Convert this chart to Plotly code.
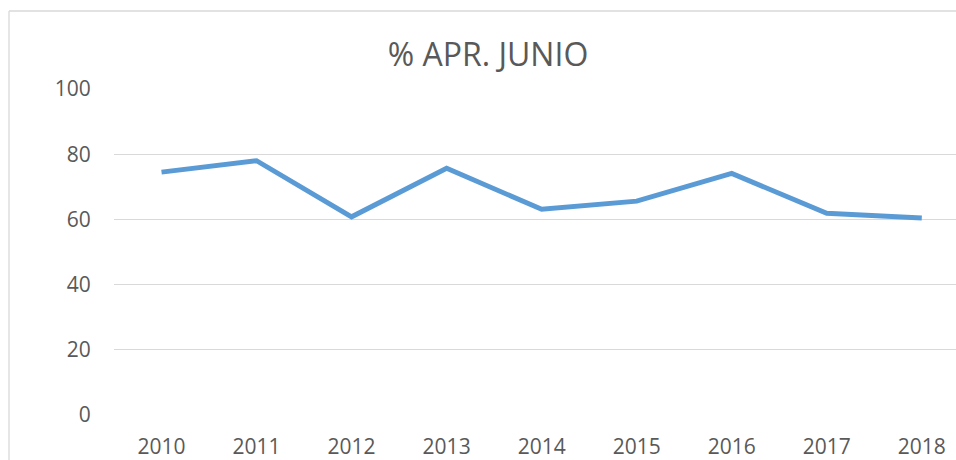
import plotly.graph_objects as go

years = ["2010", "2011", "2012", "2013", "2014", "2015", "2016", "2017", "2018"]
values = [74.5, 78.0, 60.8, 75.7, 63.1, 65.6, 74.1, 61.9, 60.4]
title_text = "% APR. JUNIO"
y_ticks = [0, 20, 40, 60, 80, 100]

W, H = 956, 460
L, T, B = 114, 89, 45
PW, PH = W - L, H - T - B

fig = go.Figure()
fig.add_trace(go.Scatter(
    x=years, y=values, mode="lines",
    line=dict(color="#5B9BD5", width=5),
    hoverinfo="x+y",
))

border_x = (9 - L) / PW
border_y = (H - B - 11) / PH

fig.update_layout(
    width=W, height=H,
    margin=dict(l=L, r=0, t=T, b=B),
    paper_bgcolor="white", plot_bgcolor="white",
    showlegend=False,
    font=dict(family="Open Sans, Noto Sans, sans-serif", color="#595959"),
    title=dict(text=title_text, x=488 / W, xanchor="center",
               y=1 - 55 / H, yanchor="middle",
               font=dict(size=32, color="#595959")),
    xaxis=dict(
        type="category", range=[-0.5, 8.36],
        showgrid=False, zeroline=False, showline=False,
        ticks="outside", ticklen=13, tickcolor="rgba(0,0,0,0)",
        tickfont=dict(size=21, color="#595959"),
    ),
    yaxis=dict(
        range=[0, 100], tickvals=y_ticks,
        showgrid=True, gridcolor="#D9D9D9", gridwidth=1.3,
        zeroline=False, showline=False,
        ticks="outside", ticklen=18, tickcolor="rgba(0,0,0,0)",
        tickfont=dict(size=21, color="#595959"),
    ),
    shapes=[
        dict(type="line", xref="paper", yref="paper",
             x0=border_x, x1=border_x, y0=border_y, y1=-0.5,
             line=dict(color="#D9D9D9", width=1.3)),
        dict(type="line", xref="paper", yref="paper",
             x0=border_x, x1=1.2, y0=border_y, y1=border_y,
             line=dict(color="#D9D9D9", width=1.3)),
    ],
)

fig.write_html(
    "out.html",
    config={"displayModeBar": False},
    post_script=(
        "document.body.style.margin='0';"
        "document.body.style.overflow='hidden';"
        "document.documentElement.style.overflow='hidden';"
    ),
)
